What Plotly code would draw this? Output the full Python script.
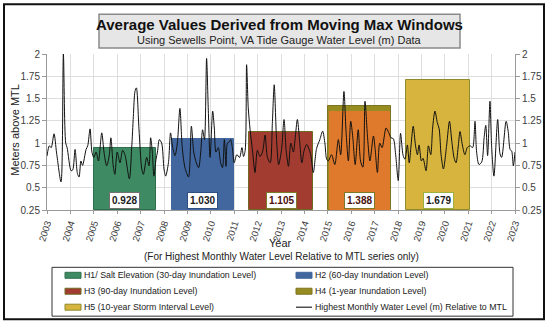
import plotly.graph_objects as go

# ---------------- data ----------------
years = [2003.00, 2003.10, 2003.18, 2003.30, 2003.41, 2003.60, 2003.70, 2003.80, 2003.86, 2004.03,
         2004.10, 2004.20, 2004.30, 2004.37, 2004.45, 2004.52, 2004.67, 2004.74, 2004.84, 2004.92,
         2005.00, 2005.10, 2005.20, 2005.34, 2005.44, 2005.55, 2005.66, 2005.73, 2005.83, 2005.90,
         2006.00, 2006.12, 2006.23, 2006.33, 2006.52, 2006.62, 2006.69, 2006.76, 2006.82, 2006.93,
         2007.05, 2007.12, 2007.26, 2007.36, 2007.43, 2007.50, 2007.57, 2007.66, 2007.72, 2007.80,
         2007.90, 2008.00, 2008.07, 2008.19, 2008.28, 2008.37, 2008.47, 2008.57, 2008.68, 2008.78,
         2008.90, 2009.05, 2009.17, 2009.27, 2009.38, 2009.48, 2009.57, 2009.65, 2009.73, 2009.82,
         2009.89, 2009.97, 2010.08, 2010.15, 2010.22, 2010.32, 2010.42, 2010.50, 2010.58, 2010.65,
         2010.71, 2010.78, 2010.85, 2010.92, 2011.00, 2011.11, 2011.23, 2011.33, 2011.40, 2011.47,
         2011.53, 2011.60, 2011.68, 2011.78, 2011.89, 2011.99, 2012.10, 2012.21, 2012.32, 2012.42,
         2012.54, 2012.63, 2012.71, 2012.81, 2012.90, 2013.02, 2013.13, 2013.22, 2013.32, 2013.42,
         2013.53, 2013.60, 2013.70, 2013.79, 2013.89, 2013.99, 2014.10, 2014.27, 2014.38, 2014.52,
         2014.66, 2014.78, 2014.88, 2014.95, 2015.02, 2015.16, 2015.30, 2015.45, 2015.55, 2015.69,
         2015.78, 2015.88, 2015.98, 2016.07, 2016.17, 2016.30, 2016.40, 2016.50, 2016.59, 2016.70,
         2016.80, 2016.95, 2017.02, 2017.12, 2017.22, 2017.32, 2017.49, 2017.60, 2017.70, 2017.80,
         2017.90, 2018.01, 2018.11, 2018.22, 2018.30, 2018.40, 2018.48, 2018.56, 2018.65, 2018.75,
         2018.83, 2018.90, 2019.00, 2019.07, 2019.20, 2019.30, 2019.40, 2019.48, 2019.58, 2019.68,
         2019.76, 2019.84, 2019.94, 2020.08, 2020.20, 2020.30, 2020.40, 2020.48, 2020.58, 2020.65,
         2020.75, 2020.86, 2020.96, 2021.08, 2021.19, 2021.29, 2021.36, 2021.46, 2021.58, 2021.68,
         2021.75, 2021.83, 2021.93, 2022.00, 2022.10, 2022.26, 2022.36, 2022.43, 2022.62, 2022.71,
         2022.79, 2022.86, 2022.93, 2023.00]
levels = [0.855, 0.97, 0.95, 1.105, 0.89, 0.565, 2.0, 1.0, 0.95, 0.69,
          0.70, 0.93, 0.66, 0.62, 0.80, 0.75, 0.93, 0.97, 1.16, 0.90,
          0.84, 0.90, 0.80, 1.115, 0.89, 0.745, 0.86, 1.06, 0.745, 0.65,
          0.90, 0.78, 0.92, 0.87, 0.60, 0.95, 1.30, 1.58, 1.62, 1.16,
          0.71, 0.65, 0.84, 0.745, 1.06, 0.90, 0.63, 0.82, 0.90, 1.04,
          1.00, 0.71, 0.63, 0.78, 1.115, 0.95, 0.86, 1.00, 1.39, 0.95,
          0.72, 0.62, 1.19, 0.90, 0.78, 0.725, 0.90, 1.15, 1.04, 1.95,
          1.40, 0.84, 1.36, 1.17, 0.90, 0.95, 0.78, 0.725, 1.04, 0.74,
          1.00, 1.01, 1.04, 0.95, 0.78, 0.87, 0.84, 0.95, 0.85, 0.92,
          1.88, 1.40, 1.15, 0.92, 0.67, 0.92, 0.85, 0.90, 1.09, 0.84,
          0.78, 1.22, 1.655, 1.04, 0.76, 0.92, 1.265, 0.92, 0.74, 1.00,
          0.90, 1.04, 1.265, 1.04, 0.78, 0.92, 0.985, 0.87, 0.67, 0.94,
          1.04, 1.135, 0.99, 0.82, 0.80, 0.87, 0.76, 1.04, 0.87, 1.58,
          1.13, 0.80, 1.245, 1.06, 0.76, 1.15, 0.80, 0.73, 1.47, 1.06,
          0.80, 1.08, 0.94, 0.67, 1.00, 0.95, 1.17, 1.12, 1.06, 1.05,
          0.87, 0.58, 1.11, 0.86, 0.82, 0.98, 0.78, 0.98, 1.19, 0.97,
          0.87, 0.98, 0.80, 0.83, 0.69, 0.97, 0.87, 1.17, 1.36, 1.23,
          1.16, 0.87, 0.71, 0.98, 1.245, 1.02, 0.83, 0.78, 0.98, 1.13,
          0.98, 0.87, 0.95, 0.97, 0.95, 1.245, 0.90, 0.76, 0.79, 1.06,
          1.20, 0.86, 1.47, 0.97, 0.63, 1.265, 0.88, 0.84, 1.245, 1.13,
          0.93, 0.91, 0.745, 0.90]

bar_names = ["H1/ Salt Elevation (30-day Inundation Level)",
             "H2 (60-day Inundation Level)",
             "H3 (90-day Inundation Level)",
             "H4 (1-year Inundation Level)",
             "H5 (10-year Storm Interval Level)"]
bar_start = [2005.00, 2008.33, 2011.65, 2015.00, 2018.34]
bar_end = [2007.66, 2011.00, 2014.35, 2017.70, 2021.08]
bar_top = [0.95, 1.05, 1.127, 1.42, 1.71]
bar_labels = ["0.928", "1.030", "1.105", "1.388", "1.679"]
h4_inner_top = 1.365   # orange body of the H4 window (below the olive band)
line_name = "Highest Monthly Water Level (m) Relative to MTL"
year_ticks = list(range(2003, 2024))
y_ticks = [0.25, 0.5, 0.75, 1, 1.25, 1.5, 1.75, 2]
y_ticktext = ["0.25", "0.5", "0.75", "1", "1.25", "1.5", "1.75", "2"]
title_text = "Average Values Derived from Moving Max Windows"
subtitle_text = "Using Sewells Point, VA Tide Gauge Water Level (m) Data"

# ---------------- style ----------------
FONT = "Liberation Sans, Arial, sans-serif"
bar_colors = ["#3e8a62", "#41679e", "#a33c30", "#978c22", "#d7b43e"]
bar_lines = ["#2f6e4c", "#41679e", "#6e6a22", "#7d7420", "#8f8a2a"]
label_borders = ["#707070", "#2f4f80", "#7a7a2a", "#7a7a2a", "#9ab040"]
label_colors = ["#1a1a1a", "#1a1a1a", "#4a1010", "#4a1010", "#1a1a1a"]
ORANGE = "#df7a2c"
BASE = 0.25

W, H = 550, 322
ML, MR, MT, MB = 47, 35, 54, 111.5
PW, PH = W - ML - MR, H - MT - MB


def px(xp):
    return (xp - ML) / PW


def py(yp):
    return (H - MB - yp) / PH


fig = go.Figure()

for i in range(5):
    c = (bar_start[i] + bar_end[i]) / 2
    w = bar_end[i] - bar_start[i]
    fig.add_trace(go.Bar(
        x=[c], y=[bar_top[i] - BASE], base=[BASE], width=[w],
        name=bar_names[i], marker=dict(color=bar_colors[i],
                                       line=dict(color=bar_lines[i], width=1)),
        hoverinfo="skip"))
    if i == 3:
        fig.add_trace(go.Bar(
            x=[c], y=[h4_inner_top - BASE], base=[BASE], width=[w - 0.06],
            showlegend=False, marker=dict(color=ORANGE, line=dict(width=0)),
            hoverinfo="skip"))

fig.add_trace(go.Scatter(
    x=years, y=levels, mode="lines", name=line_name,
    line=dict(color="#111111", width=1.0, shape="spline", smoothing=0.8)))

# invisible trace for right axis
fig.add_trace(go.Scatter(x=[2003], y=[None], yaxis="y2", showlegend=False,
                         hoverinfo="skip", mode="lines"))

annotations = []
for i in range(5):
    c = (bar_start[i] + bar_end[i]) / 2
    annotations.append(dict(
        x=c, y=0.355, xref="x", yref="y", text="<b>%s</b>" % bar_labels[i],
        showarrow=False, bgcolor="white", bordercolor=label_borders[i],
        borderwidth=1, borderpad=2, xanchor="center", yanchor="middle",
        font=dict(family=FONT, size=10, color=label_colors[i])))

shapes = [dict(type="rect", xref="paper", yref="paper",
               x0=px(4), x1=px(544), y0=py(320), y1=py(4),
               line=dict(color="#111111", width=2), fillcolor="rgba(0,0,0,0)",
               layer="below"),
          dict(type="rect", xref="paper", yref="paper",
               x0=px(99), x1=px(460), y0=py(48), y1=py(14),
               line=dict(color="#8a8a8a", width=1.5), fillcolor="#e6e6e6")]

annotations += [
    dict(x=px(279), y=py(24.5), xref="paper", yref="paper", showarrow=False,
         text="<b>%s</b>" % title_text, xanchor="center", yanchor="middle",
         font=dict(family=FONT, size=15, color="#111111")),
    dict(x=px(279), y=py(40), xref="paper", yref="paper", showarrow=False,
         text=subtitle_text, xanchor="center", yanchor="middle",
         font=dict(family=FONT, size=11, color="#222222")),
    dict(x=px(15), y=py(130), xref="paper", yref="paper", showarrow=False,
         text="Meters above MTL", textangle=-90, xanchor="center", yanchor="middle",
         font=dict(family=FONT, size=11, color="#222222")),
    dict(x=px(280), y=py(244), xref="paper", yref="paper", showarrow=False,
         text="Year", xanchor="center", yanchor="middle",
         font=dict(family=FONT, size=11, color="#222222")),
    dict(x=px(281), y=py(257.5), xref="paper", yref="paper", showarrow=False,
         text="(For Highest Monthly Water Level Relative to MTL series only)",
         xanchor="center", yanchor="middle",
         font=dict(family=FONT, size=10, color="#222222")),
]

# ---- hand-built two-column legend ----
shapes.append(dict(type="rect", xref="paper", yref="paper",
                   x0=px(52), x1=px(513), y0=py(317), y1=py(268),
                   line=dict(color="#333333", width=1), fillcolor="white"))
leg_names = bar_names + [line_name]
col_x = [65, 296]
row_y = [276, 292, 308]
for k, name in enumerate(leg_names):
    cx = col_x[k % 2]
    ry = row_y[k // 2]
    if k < 5:
        shapes.append(dict(type="rect", xref="paper", yref="paper",
                           x0=px(cx), x1=px(cx + 16), y0=py(ry + 3), y1=py(ry - 3),
                           line=dict(color=bar_lines[k], width=1),
                           fillcolor=bar_colors[k]))
    else:
        shapes.append(dict(type="line", xref="paper", yref="paper",
                           x0=px(cx), x1=px(cx + 16), y0=py(ry), y1=py(ry),
                           line=dict(color="#111111", width=1.1)))
    annotations.append(dict(x=px(cx + 17), y=py(ry), xref="paper", yref="paper",
                            showarrow=False, text=name, xanchor="left",
                            yanchor="middle",
                            font=dict(family=FONT, size=8.8, color="#222222")))

axis_common = dict(showline=True, linecolor="#9a9a9a", linewidth=1,
                   ticks="outside", tickcolor="#9a9a9a", ticklen=4,
                   tickfont=dict(family=FONT, size=10, color="#404040"))

fig.update_layout(
    width=W, height=H,
    margin=dict(l=ML, r=MR, t=MT, b=MB, autoexpand=False),
    paper_bgcolor="white", plot_bgcolor="white",
    font=dict(family=FONT, size=10, color="#333333"),
    barmode="overlay", bargap=0, showlegend=False,
    xaxis=dict(range=[2003, 2023], tickvals=year_ticks,
               ticktext=[str(y) for y in year_ticks], tickangle=-72,
               showgrid=True, gridcolor="#dedede", gridwidth=1,
               zeroline=False, automargin=False,
               showline=True, linecolor="#9a9a9a", linewidth=1,
               ticks="outside", tickcolor="#9a9a9a", ticklen=3,
               tickfont=dict(family=FONT, size=9.5, color="#404040")),
    yaxis=dict(range=[0.25, 2.0], tickvals=y_ticks, ticktext=y_ticktext,
               showgrid=True, gridcolor="#dedede", zeroline=False,
               automargin=False, **axis_common),
    yaxis2=dict(range=[0.25, 2.0], tickvals=y_ticks, overlaying="y", side="right",
                ticktext=y_ticktext, showgrid=False, zeroline=False,
                automargin=False, **axis_common),
    annotations=annotations, shapes=shapes,
)

fig.write_html("out.html", config={"displayModeBar": False},
               post_script="document.body.style.margin='0';")
